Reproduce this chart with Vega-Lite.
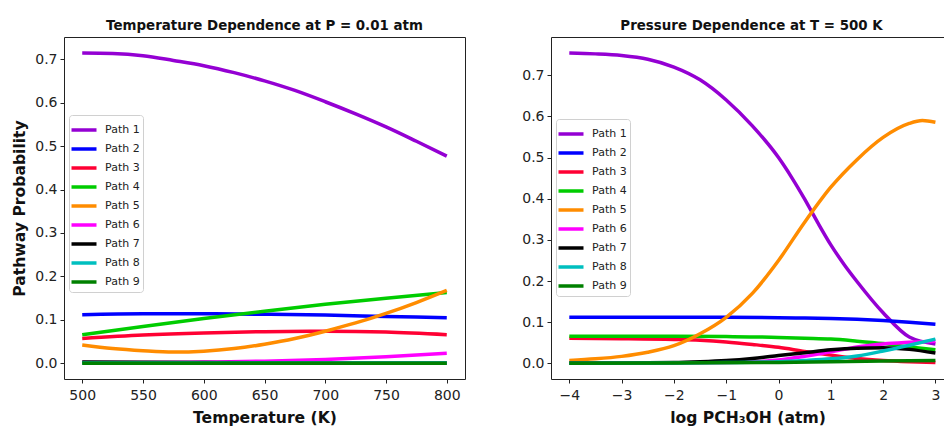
{
  "$schema": "https://vega.github.io/schema/vega-lite/v6.json",
  "padding": {"left": 12, "top": 18, "right": 0, "bottom": 0},
  "spacing": 55,
  "config": {
    "font": "DejaVu Sans",
    "view": {"stroke": "#222", "strokeWidth": 1},
    "axis": {"domain": false, "grid": false, "tickColor": "#222", "tickSize": 4, "labelFontSize": 14, "labelColor": "#222", "labelPadding": 3, "titleFontSize": 15.6, "titleFontWeight": "bold", "titleColor": "#111"},
    "title": {"fontSize": 13.4, "fontWeight": "bold", "color": "#111", "offset": 5},
    "legend": {"orient": "none", "symbolType": "M-1.25,0H1.25", "symbolStrokeWidth": 3.5, "symbolSize": 400, "labelFontSize": 11, "labelColor": "#222", "strokeColor": "#d0d0d0", "fillColor": "#ffffff", "padding": 3, "cornerRadius": 3, "labelOffset": 9}
  },
  "resolve": {"scale": {"color": "independent", "x": "independent", "y": "independent"}, "legend": {"color": "independent"}},
  "datasets": {
    "temp": [
      {"x": 500, "path": "Path 1", "p": 0.714}, {"x": 525, "path": "Path 1", "p": 0.713}, {"x": 550, "path": "Path 1", "p": 0.708}, {"x": 575, "path": "Path 1", "p": 0.697}, {"x": 600, "path": "Path 1", "p": 0.685}, {"x": 625, "path": "Path 1", "p": 0.669}, {"x": 650, "path": "Path 1", "p": 0.650}, {"x": 675, "path": "Path 1", "p": 0.628}, {"x": 700, "path": "Path 1", "p": 0.602}, {"x": 725, "path": "Path 1", "p": 0.574}, {"x": 750, "path": "Path 1", "p": 0.544}, {"x": 775, "path": "Path 1", "p": 0.511}, {"x": 800, "path": "Path 1", "p": 0.477},
      {"x": 500, "path": "Path 2", "p": 0.112}, {"x": 550, "path": "Path 2", "p": 0.114}, {"x": 600, "path": "Path 2", "p": 0.114}, {"x": 650, "path": "Path 2", "p": 0.113}, {"x": 700, "path": "Path 2", "p": 0.111}, {"x": 750, "path": "Path 2", "p": 0.108}, {"x": 800, "path": "Path 2", "p": 0.105},
      {"x": 500, "path": "Path 3", "p": 0.057}, {"x": 550, "path": "Path 3", "p": 0.065}, {"x": 600, "path": "Path 3", "p": 0.070}, {"x": 650, "path": "Path 3", "p": 0.073}, {"x": 700, "path": "Path 3", "p": 0.074}, {"x": 750, "path": "Path 3", "p": 0.072}, {"x": 800, "path": "Path 3", "p": 0.066},
      {"x": 500, "path": "Path 4", "p": 0.066}, {"x": 550, "path": "Path 4", "p": 0.085}, {"x": 600, "path": "Path 4", "p": 0.103}, {"x": 650, "path": "Path 4", "p": 0.120}, {"x": 700, "path": "Path 4", "p": 0.136}, {"x": 750, "path": "Path 4", "p": 0.150}, {"x": 800, "path": "Path 4", "p": 0.163},
      {"x": 500, "path": "Path 5", "p": 0.042}, {"x": 525, "path": "Path 5", "p": 0.034}, {"x": 550, "path": "Path 5", "p": 0.029}, {"x": 575, "path": "Path 5", "p": 0.026}, {"x": 600, "path": "Path 5", "p": 0.028}, {"x": 625, "path": "Path 5", "p": 0.034}, {"x": 650, "path": "Path 5", "p": 0.044}, {"x": 675, "path": "Path 5", "p": 0.057}, {"x": 700, "path": "Path 5", "p": 0.074}, {"x": 725, "path": "Path 5", "p": 0.093}, {"x": 750, "path": "Path 5", "p": 0.115}, {"x": 775, "path": "Path 5", "p": 0.140}, {"x": 800, "path": "Path 5", "p": 0.168},
      {"x": 500, "path": "Path 6", "p": 0.002}, {"x": 550, "path": "Path 6", "p": 0.002}, {"x": 600, "path": "Path 6", "p": 0.003}, {"x": 650, "path": "Path 6", "p": 0.005}, {"x": 700, "path": "Path 6", "p": 0.009}, {"x": 750, "path": "Path 6", "p": 0.015}, {"x": 800, "path": "Path 6", "p": 0.023},
      {"x": 500, "path": "Path 7", "p": 0.003}, {"x": 600, "path": "Path 7", "p": 0.002}, {"x": 700, "path": "Path 7", "p": 0.001}, {"x": 800, "path": "Path 7", "p": 0.001},
      {"x": 500, "path": "Path 8", "p": 0.001}, {"x": 650, "path": "Path 8", "p": 0.001}, {"x": 800, "path": "Path 8", "p": 0.001},
      {"x": 500, "path": "Path 9", "p": 0.000}, {"x": 650, "path": "Path 9", "p": 0.000}, {"x": 800, "path": "Path 9", "p": 0.000}
    ],
    "pres": [
      {"x": -4, "path": "Path 1", "p": 0.754}, {"x": -3.5, "path": "Path 1", "p": 0.752}, {"x": -3, "path": "Path 1", "p": 0.748}, {"x": -2.5, "path": "Path 1", "p": 0.739}, {"x": -2, "path": "Path 1", "p": 0.720}, {"x": -1.5, "path": "Path 1", "p": 0.689}, {"x": -1, "path": "Path 1", "p": 0.640}, {"x": -0.5, "path": "Path 1", "p": 0.577}, {"x": 0, "path": "Path 1", "p": 0.500}, {"x": 0.25, "path": "Path 1", "p": 0.452}, {"x": 0.5, "path": "Path 1", "p": 0.399}, {"x": 0.75, "path": "Path 1", "p": 0.342}, {"x": 1, "path": "Path 1", "p": 0.288}, {"x": 1.25, "path": "Path 1", "p": 0.241}, {"x": 1.5, "path": "Path 1", "p": 0.199}, {"x": 2, "path": "Path 1", "p": 0.123}, {"x": 2.5, "path": "Path 1", "p": 0.064}, {"x": 3, "path": "Path 1", "p": 0.047},
      {"x": -4, "path": "Path 2", "p": 0.112}, {"x": -3, "path": "Path 2", "p": 0.112}, {"x": -2, "path": "Path 2", "p": 0.112}, {"x": -1, "path": "Path 2", "p": 0.112}, {"x": 0, "path": "Path 2", "p": 0.111}, {"x": 0.5, "path": "Path 2", "p": 0.110}, {"x": 1, "path": "Path 2", "p": 0.109}, {"x": 1.5, "path": "Path 2", "p": 0.107}, {"x": 2, "path": "Path 2", "p": 0.104}, {"x": 2.5, "path": "Path 2", "p": 0.100}, {"x": 3, "path": "Path 2", "p": 0.095},
      {"x": -4, "path": "Path 3", "p": 0.061}, {"x": -3, "path": "Path 3", "p": 0.060}, {"x": -2, "path": "Path 3", "p": 0.058}, {"x": -1.5, "path": "Path 3", "p": 0.056}, {"x": -1, "path": "Path 3", "p": 0.052}, {"x": -0.5, "path": "Path 3", "p": 0.046}, {"x": 0, "path": "Path 3", "p": 0.039}, {"x": 0.5, "path": "Path 3", "p": 0.029}, {"x": 1, "path": "Path 3", "p": 0.020}, {"x": 1.5, "path": "Path 3", "p": 0.012}, {"x": 2, "path": "Path 3", "p": 0.007}, {"x": 2.5, "path": "Path 3", "p": 0.004}, {"x": 3, "path": "Path 3", "p": 0.002},
      {"x": -4, "path": "Path 4", "p": 0.066}, {"x": -3, "path": "Path 4", "p": 0.066}, {"x": -2, "path": "Path 4", "p": 0.066}, {"x": -1, "path": "Path 4", "p": 0.065}, {"x": 0, "path": "Path 4", "p": 0.063}, {"x": 0.5, "path": "Path 4", "p": 0.061}, {"x": 1, "path": "Path 4", "p": 0.059}, {"x": 1.5, "path": "Path 4", "p": 0.054}, {"x": 2, "path": "Path 4", "p": 0.048}, {"x": 2.5, "path": "Path 4", "p": 0.040}, {"x": 3, "path": "Path 4", "p": 0.033},
      {"x": -4, "path": "Path 5", "p": 0.007}, {"x": -3.5, "path": "Path 5", "p": 0.011}, {"x": -3, "path": "Path 5", "p": 0.017}, {"x": -2.5, "path": "Path 5", "p": 0.027}, {"x": -2, "path": "Path 5", "p": 0.043}, {"x": -1.5, "path": "Path 5", "p": 0.072}, {"x": -1, "path": "Path 5", "p": 0.112}, {"x": -0.5, "path": "Path 5", "p": 0.170}, {"x": 0, "path": "Path 5", "p": 0.250}, {"x": 0.5, "path": "Path 5", "p": 0.343}, {"x": 1, "path": "Path 5", "p": 0.428}, {"x": 1.5, "path": "Path 5", "p": 0.495}, {"x": 2, "path": "Path 5", "p": 0.549}, {"x": 2.5, "path": "Path 5", "p": 0.583}, {"x": 2.75, "path": "Path 5", "p": 0.590}, {"x": 3, "path": "Path 5", "p": 0.586},
      {"x": -4, "path": "Path 6", "p": 0.000}, {"x": -2, "path": "Path 6", "p": 0.001}, {"x": -1, "path": "Path 6", "p": 0.002}, {"x": -0.5, "path": "Path 6", "p": 0.004}, {"x": 0, "path": "Path 6", "p": 0.008}, {"x": 0.5, "path": "Path 6", "p": 0.017}, {"x": 1, "path": "Path 6", "p": 0.028}, {"x": 1.5, "path": "Path 6", "p": 0.040}, {"x": 2, "path": "Path 6", "p": 0.047}, {"x": 2.5, "path": "Path 6", "p": 0.051}, {"x": 3, "path": "Path 6", "p": 0.054},
      {"x": -4, "path": "Path 7", "p": 0.001}, {"x": -3, "path": "Path 7", "p": 0.001}, {"x": -2, "path": "Path 7", "p": 0.002}, {"x": -1.5, "path": "Path 7", "p": 0.004}, {"x": -1, "path": "Path 7", "p": 0.007}, {"x": -0.5, "path": "Path 7", "p": 0.012}, {"x": 0, "path": "Path 7", "p": 0.019}, {"x": 0.5, "path": "Path 7", "p": 0.026}, {"x": 1, "path": "Path 7", "p": 0.033}, {"x": 1.5, "path": "Path 7", "p": 0.037}, {"x": 2, "path": "Path 7", "p": 0.038}, {"x": 2.5, "path": "Path 7", "p": 0.034}, {"x": 3, "path": "Path 7", "p": 0.025},
      {"x": -4, "path": "Path 8", "p": 0.000}, {"x": -2, "path": "Path 8", "p": 0.001}, {"x": -1, "path": "Path 8", "p": 0.002}, {"x": 0, "path": "Path 8", "p": 0.004}, {"x": 0.5, "path": "Path 8", "p": 0.007}, {"x": 1, "path": "Path 8", "p": 0.011}, {"x": 1.5, "path": "Path 8", "p": 0.018}, {"x": 2, "path": "Path 8", "p": 0.030}, {"x": 2.5, "path": "Path 8", "p": 0.044}, {"x": 3, "path": "Path 8", "p": 0.059},
      {"x": -4, "path": "Path 9", "p": 0.000}, {"x": -2, "path": "Path 9", "p": 0.001}, {"x": 0, "path": "Path 9", "p": 0.002}, {"x": 1, "path": "Path 9", "p": 0.004}, {"x": 2, "path": "Path 9", "p": 0.006}, {"x": 3, "path": "Path 9", "p": 0.007}
    ]
  },
  "hconcat": [
    {
      "data": {"name": "temp"},
      "width": 401,
      "height": 342,
      "title": "Temperature Dependence at P = 0.01 atm",
      "mark": {"type": "line", "strokeWidth": 3.5, "interpolate": "monotone", "clip": true},
      "encoding": {
        "x": {"field": "x", "type": "quantitative", "scale": {"domain": [485, 815], "nice": false, "zero": false}, "axis": {"values": [500, 550, 600, 650, 700, 750, 800], "title": "Temperature (K)", "labelPadding": 5, "titlePadding": 8}},
        "y": {"field": "p", "type": "quantitative", "scale": {"domain": [-0.036, 0.751], "nice": false, "zero": false}, "axis": {"values": [0, 0.1, 0.2, 0.3, 0.4, 0.5, 0.6, 0.7], "format": ".1f", "title": "Pathway Probability", "titlePadding": 7}},
        "color": {"field": "path", "type": "nominal", "scale": {"domain": ["Path 1", "Path 2", "Path 3", "Path 4", "Path 5", "Path 6", "Path 7", "Path 8", "Path 9"], "range": ["#9400d3", "#0000ff", "#ff0033", "#00cc00", "#ff8c00", "#ff00ff", "#000000", "#00bfbf", "#008000"]}, "legend": {"title": null, "legendX": 5, "legendY": 78, "rowPadding": 0}}
      }
    },
    {
      "data": {"name": "pres"},
      "width": 393,
      "height": 342,
      "title": {"text": "Pressure Dependence at T = 500 K", "dx": 4},
      "mark": {"type": "line", "strokeWidth": 3.5, "interpolate": "monotone", "clip": true},
      "encoding": {
        "x": {"field": "x", "type": "quantitative", "scale": {"domain": [-4.35, 3.164], "nice": false, "zero": false}, "axis": {"values": [-4, -3, -2, -1, 0, 1, 2, 3], "format": "d", "title": "log PCH₃OH (atm)", "labelPadding": 5, "titlePadding": 8}},
        "y": {"field": "p", "type": "quantitative", "scale": {"domain": [-0.038, 0.793], "nice": false, "zero": false}, "axis": {"values": [0, 0.1, 0.2, 0.3, 0.4, 0.5, 0.6, 0.7], "format": ".1f", "title": null}},
        "color": {"field": "path", "type": "nominal", "scale": {"domain": ["Path 1", "Path 2", "Path 3", "Path 4", "Path 5", "Path 6", "Path 7", "Path 8", "Path 9"], "range": ["#9400d3", "#0000ff", "#ff0033", "#00cc00", "#ff8c00", "#ff00ff", "#000000", "#00bfbf", "#008000"]}, "legend": {"title": null, "legendX": 5, "legendY": 82, "rowPadding": 0}}
      }
    }
  ]
}
